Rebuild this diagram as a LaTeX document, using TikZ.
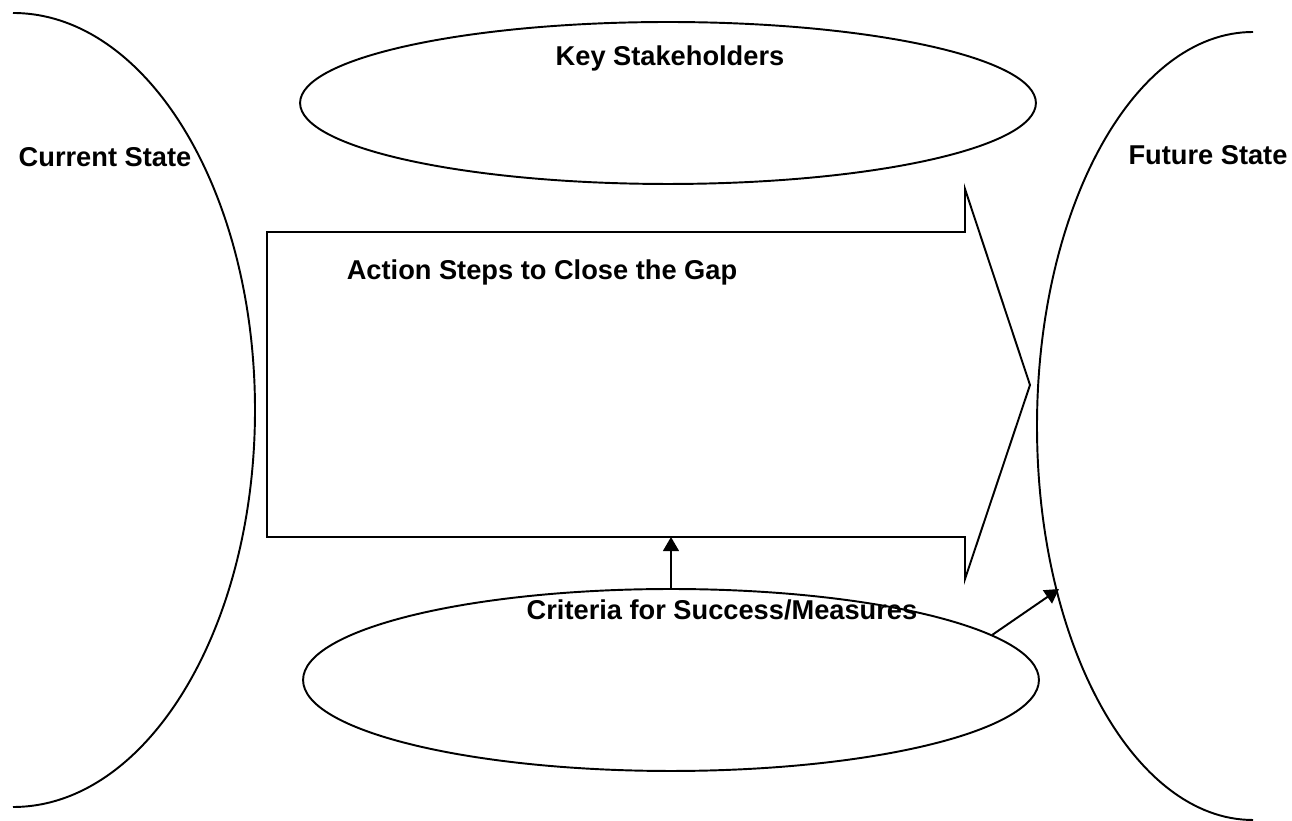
\documentclass[tikz,border=0pt]{standalone}
\usepackage{fontspec}
\setmainfont{Liberation Sans}
\usetikzlibrary{shapes.geometric,arrows.meta}

\tikzset{
  label text/.style={font=\bfseries\fontsize{15.5}{18}\selectfont},
  bubble/.style={draw, ellipse, line width=1.1pt, inner sep=0pt},
  link/.style={line width=1.1pt, -{Triangle[length=8pt,width=9pt]}}
}

\begin{document}
\begin{tikzpicture}[x=0.02cm, y=0.02cm, line width=1.1pt]
  \useasboundingbox (0,0) rectangle (1292,821);

  % Current and future state arcs
  \draw (13,808) arc[start angle=90, end angle=-90, x radius=242, y radius=397];
  \draw (1253,789) arc[start angle=90, end angle=270, x radius=216, y radius=394];
  \coordinate (future hit) at (1059,232);

  % Stakeholder and criteria ellipses
  \node[bubble, minimum width=14.72cm, minimum height=3.24cm] (stake) at (668,718) {};
  \node[bubble, minimum width=14.72cm, minimum height=3.64cm] (crit) at (671,141) {};

  % Big block arrow
  \draw (267,589) -- (965,589) -- (965,632) -- (1030,436) -- (965,242)
    -- (965,284) -- (267,284) -- cycle;
  \coordinate (gap bottom) at (671,284);

  % Labels
  \node[label text] (current) at (105,664) {Current State};
  \node[label text] (futurelbl) at (1208,666) {Future State};
  \node[label text] (stakelbl) at (670,763) {Key Stakeholders};
  \node[label text] (action) at (542,549) {Action Steps to Close the Gap};
  \node[label text] (critlbl) at (722,211) {Criteria for Success/Measures};

  % Connectors
  \draw[link] (crit.north) -- (gap bottom);
  \draw[link] (crit.8.5) -- (future hit);
\end{tikzpicture}
\end{document}
